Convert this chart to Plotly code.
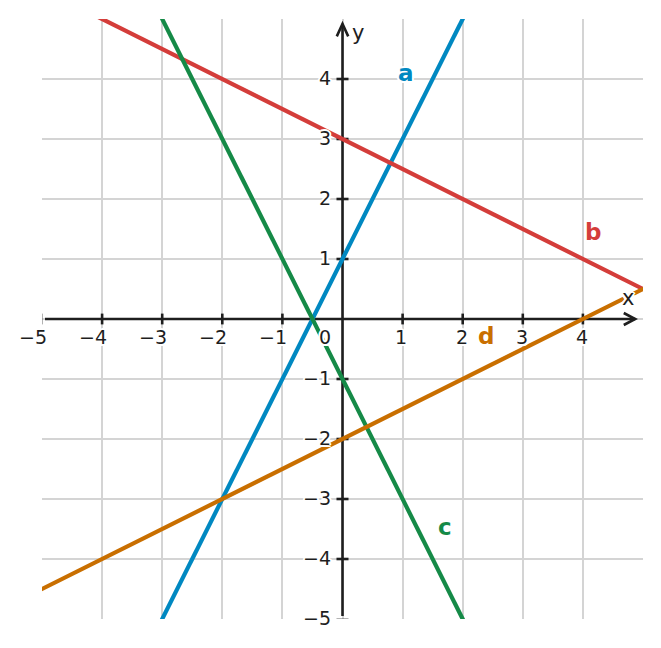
import plotly.graph_objects as go

# ---- data ----
line_names = ["a", "b", "c", "d"]
line_colors = ["#0088c1", "#d43d3a", "#158a47", "#c96f00"]
a_x = [-3.5, 2.5]
a_y = [-6, 6]
b_x = [-6, 6]
b_y = [6, 0]
c_x = [-3.5, 2.5]
c_y = [6, -6]
d_x = [-6, 6]
d_y = [-5, 1]
label_x = [1.06, 4.16, 1.70, 2.38]
label_y = [4.1, 1.45, -3.47, -0.29]

x_ticks = [-5, -4, -3, -2, -1, 1, 2, 3, 4]
y_ticks = [4, 3, 2, 1, -1, -2, -3, -4, -5]
grid_vals = [-5, -4, -3, -2, -1, 0, 1, 2, 3, 4]

def fmt(v):
    return ("\u2212" + str(-v)) if v < 0 else str(v)

AX = "#1e1e1e"
FONT = "DejaVu Sans"
HALO = ("white 2px 0px 0px, white -2px 0px 0px, white 0px 2px 0px, white 0px -2px 0px, "
        "white 1.5px 1.5px 0px, white -1.5px -1.5px 0px, white 1.5px -1.5px 0px, white -1.5px 1.5px 0px")

fig = go.Figure()
for name, col, xs, ys in zip(line_names, line_colors,
                             [a_x, b_x, c_x, d_x], [a_y, b_y, c_y, d_y]):
    fig.add_trace(go.Scatter(x=xs, y=ys, mode="lines", name=name,
                             line=dict(color=col, width=4.2), hoverinfo="skip",
                             showlegend=False))

shapes = []
# axes lines
shapes.append(dict(type="line", x0=-4.95, y0=0, x1=4.87, y1=0, layer="between",
                   line=dict(color=AX, width=2.6)))
shapes.append(dict(type="line", x0=0, y0=-4.95, x1=0, y1=4.92, layer="between",
                   line=dict(color=AX, width=2.6)))
# arrowheads
shapes.append(dict(type="path", path="M 4.68,0.1 L 4.87,0 L 4.68,-0.1", layer="between",
                   line=dict(color=AX, width=2.6)))
shapes.append(dict(type="path", path="M -0.095,4.71 L 0,4.92 L 0.095,4.71", layer="between",
                   line=dict(color=AX, width=2.6)))
# tick marks
for v in x_ticks:
    w = 1 if v == -5 else 2.6
    c = "#666666" if v == -5 else AX
    shapes.append(dict(type="line", xref="x", yref="y", x0=v, x1=v, y0=-0.09, y1=0.09,
                       layer="between", line=dict(color=c, width=w)))
for v in y_ticks:
    w = 1 if v == -5 else 2.6
    c = "#666666" if v == -5 else AX
    shapes.append(dict(type="line", x0=-0.1, x1=0.1, y0=v, y1=v,
                       layer="between", line=dict(color=c, width=w)))

annotations = []
tick_font = dict(family=FONT, size=19, color=AX, shadow=HALO)
for v in x_ticks:
    annotations.append(dict(x=v, y=0, text=fmt(v), showarrow=False, xanchor="right",
                            yanchor="middle", xshift=5.8, yshift=-18, borderpad=0,
                            font=tick_font))
for v in y_ticks:
    annotations.append(dict(x=0, y=v, text=fmt(v), showarrow=False, xanchor="right",
                            yanchor="middle", xshift=-11, yshift=1.5, borderpad=0,
                            font=tick_font))
annotations.append(dict(x=0, y=0, text="0", showarrow=False, xanchor="right",
                        yanchor="middle", xshift=-11, yshift=-18, borderpad=0, font=tick_font))
# axis names
annotations.append(dict(x=4.75, y=0.35, text="x", showarrow=False, xanchor="center",
                        yanchor="middle", borderpad=0,
                        font=dict(family=FONT, size=21, color=AX, shadow=HALO)))
annotations.append(dict(x=0.25, y=4.77, text="y", showarrow=False, xanchor="center",
                        yanchor="middle", borderpad=0,
                        font=dict(family=FONT, size=21, color=AX, shadow=HALO)))
# line labels
for name, col, lx, ly in zip(line_names, line_colors, label_x, label_y):
    annotations.append(dict(x=lx, y=ly, text="<b>" + name + "</b>", showarrow=False,
                            xanchor="center", yanchor="middle", borderpad=0,
                            font=dict(family=FONT, size=23, color=col, shadow=HALO)))

# page body has an 8px margin, so margins are reduced by 8px
fig.update_layout(
    width=645, height=631,
    margin=dict(l=34, r=10, t=11, b=20),
    paper_bgcolor="white", plot_bgcolor="white",
    xaxis=dict(range=[-5, 5], tickvals=grid_vals, showticklabels=False, ticks="",
               showgrid=True, gridcolor="#d4d4d4", gridwidth=1.6, zeroline=False,
               showline=False, fixedrange=True),
    yaxis=dict(range=[-5, 5], tickvals=grid_vals, showticklabels=False, ticks="",
               showgrid=True, gridcolor="#d4d4d4", gridwidth=1.6, zeroline=False,
               showline=False, fixedrange=True),
    shapes=shapes, annotations=annotations, showlegend=False,
)

fig.write_html("out.html", config={"displayModeBar": False})
